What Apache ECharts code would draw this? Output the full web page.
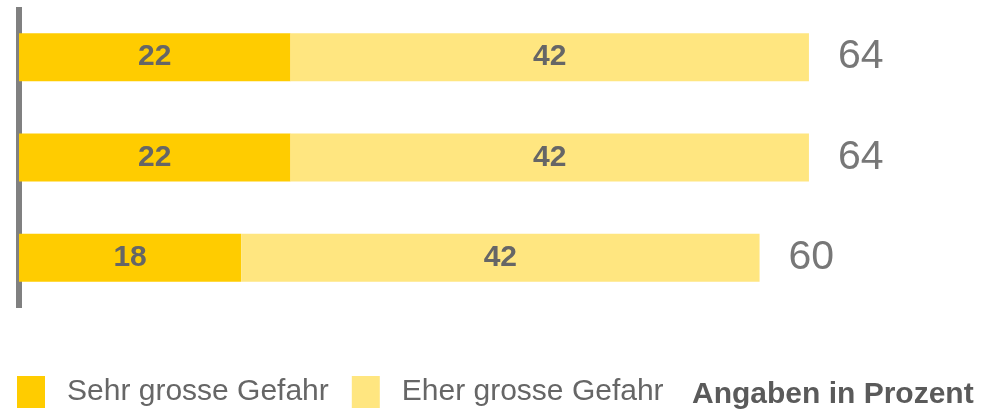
<!DOCTYPE html>
<html>
<head>
<meta charset="utf-8">
<script src="https://cdn.jsdelivr.net/npm/echarts@6/dist/echarts.min.js"></script>
<style>
html,body{margin:0;padding:0;background:#fff;}
#chart{width:986px;height:413px;}
</style>
</head>
<body>
<div id="chart"></div>
<script>
const categories = ['Zeile 1', 'Zeile 2', 'Zeile 3'];
const sehrGross = [22, 22, 18];
const eherGross = [42, 42, 42];
const totals = [64, 64, 60];
const seriesNames = ['Sehr grosse Gefahr', 'Eher grosse Gefahr'];
const noteText = 'Angaben in Prozent';

const chart = echarts.init(document.getElementById('chart'));
const textColor = '#666666';
const ff = 'Liberation Sans, Arial, sans-serif';
chart.setOption({
  animation: false,
  backgroundColor: '#ffffff',
  grid: { left: 19, top: 7, height: 301, width: 864 },
  xAxis: { type: 'value', min: 0, max: 70, show: false },
  yAxis: {
    type: 'category', data: categories, inverse: true, offset: 3,
    axisLine: { show: true, lineStyle: { color: '#808080', width: 6, cap: 'butt' } },
    axisTick: { show: false }, axisLabel: { show: false }, splitLine: { show: false }
  },
  legend: {
    left: 17, top: 376, padding: 0, itemWidth: 28, itemHeight: 32, itemGap: 23,
    icon: 'rect', selectedMode: false,
    data: seriesNames,
    textStyle: { fontFamily: ff, fontSize: 30, color: textColor, padding: [3, 0, 0, 17] }
  },
  title: {
    text: noteText, left: 692, top: 380, padding: 0,
    textStyle: { fontFamily: ff, fontSize: 30, fontWeight: 'bold', color: '#5a5a5a' }
  },
  series: [
    {
      name: seriesNames[0], type: 'bar', stack: 'total', data: sehrGross, barWidth: 48,
      itemStyle: { color: '#FFCC00' },
      label: { show: true, position: 'inside', fontFamily: ff, fontSize: 30, fontWeight: 'bold', color: textColor }
    },
    {
      name: seriesNames[1], type: 'bar', stack: 'total', data: eherGross, barWidth: 48,
      itemStyle: { color: '#FFE680' },
      label: { show: true, position: 'inside', fontFamily: ff, fontSize: 30, fontWeight: 'bold', color: textColor }
    },
    {
      name: 'Total', type: 'scatter', data: totals, symbolSize: 0, silent: true,
      label: { show: true, position: 'right', distance: 29, fontFamily: ff, fontSize: 41, color: '#555555' }
    }
  ]
});
</script>
</body>
</html>
